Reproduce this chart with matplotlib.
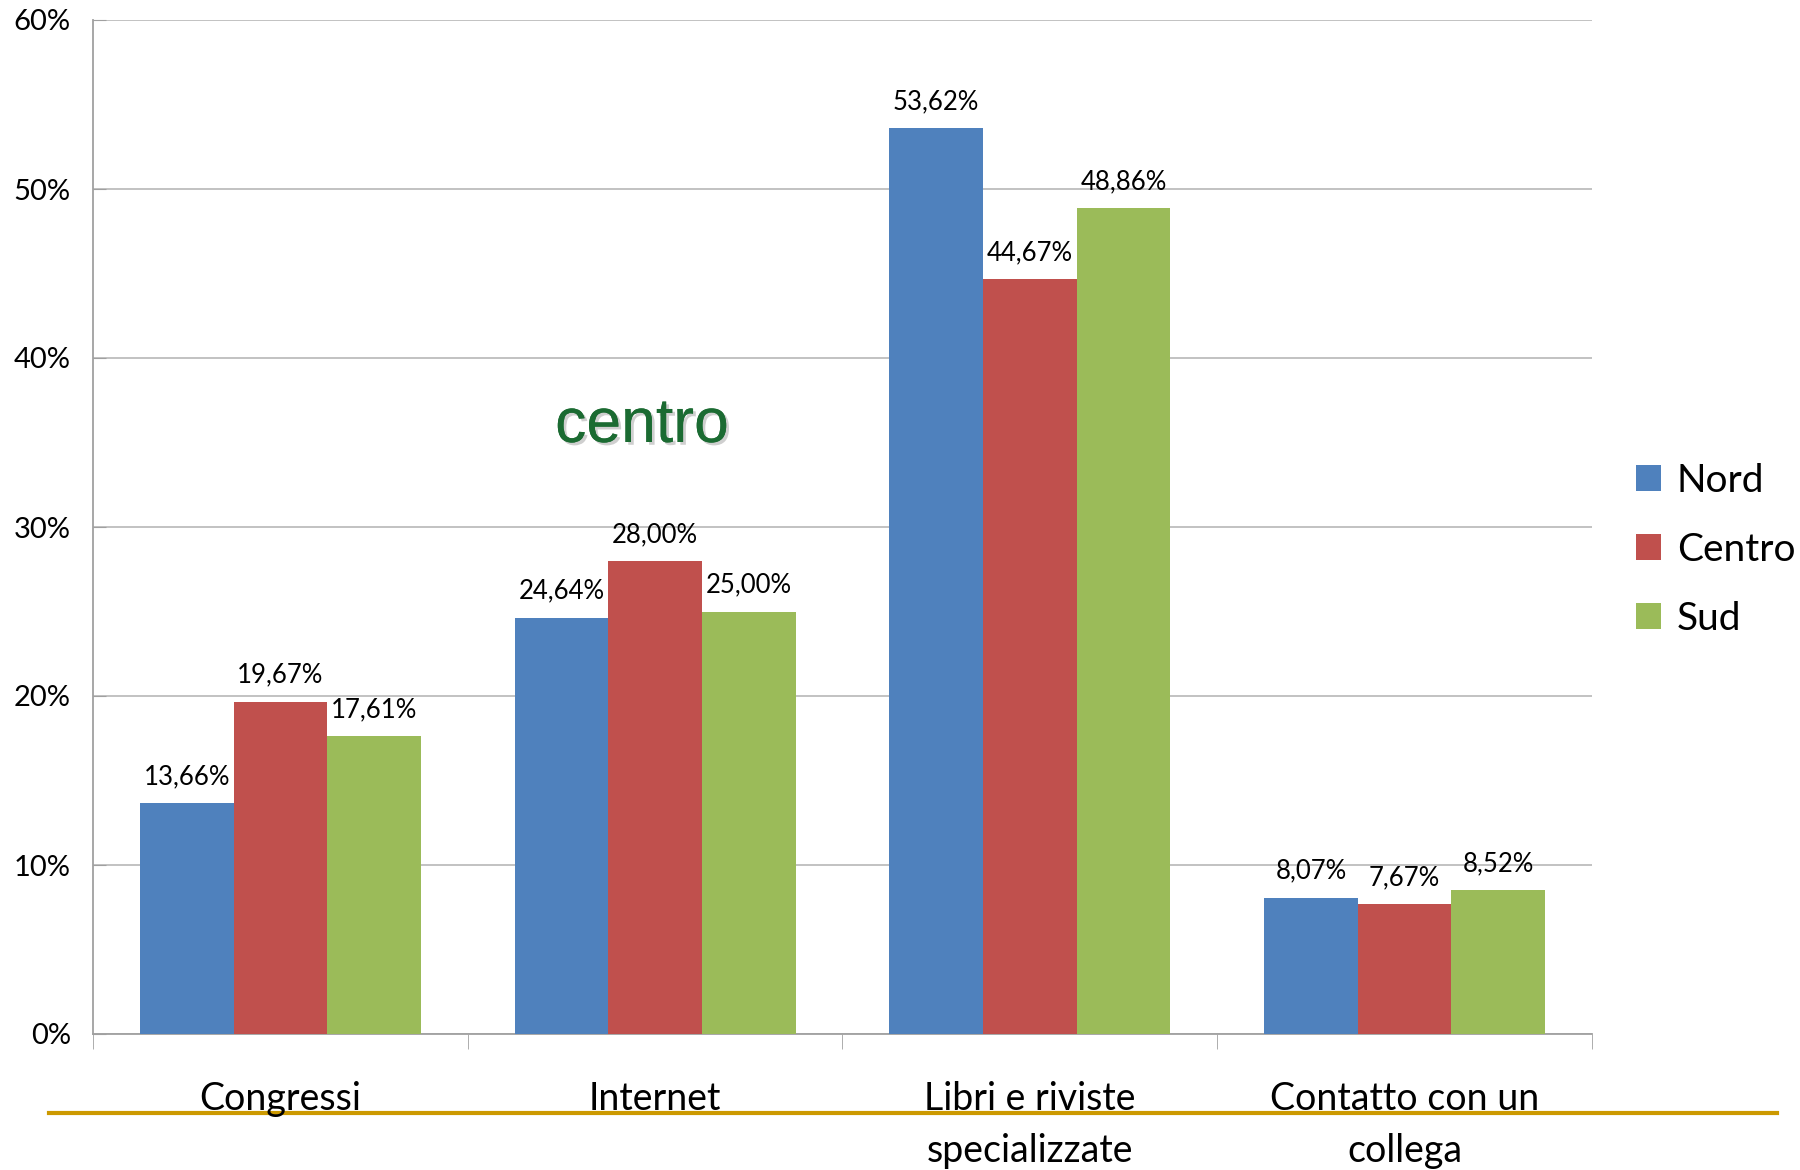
import matplotlib.pyplot as plt
import matplotlib.patheffects as pe
from matplotlib.lines import Line2D
import numpy as np

categories = ['Congressi', 'Internet', 'Libri e riviste\nspecializzate', 'Contatto con un\ncollega']
series = ['Nord', 'Centro', 'Sud']
nord = [13.66, 24.64, 53.62, 8.07]
centro = [19.67, 28.00, 44.67, 7.67]
sud = [17.61, 25.00, 48.86, 8.52]
colors = ['#4F81BD', '#C0504D', '#9BBB59']
y_ticks = [0, 10, 20, 30, 40, 50, 60]

plt.rcParams['font.family'] = ['Lato', 'DejaVu Sans']

fig = plt.figure(figsize=(18, 11.7), dpi=100)
ax = fig.add_axes([93 / 1800, 1 - 1034 / 1170, (1592 - 93) / 1800, (1034 - 20) / 1170])

x = np.arange(len(categories))
w = 0.25
bars = []
for i, (vals, col) in enumerate(zip([nord, centro, sud], colors)):
    b = ax.bar(x + (i - 1) * w, vals, w, color=col, label=series[i], zorder=3)
    bars.append(b)
    # etichette dei valori sopra le barre
    for xi, v in zip(x + (i - 1) * w, vals):
        ax.annotate(f"{v:.2f}%".replace('.', ','), (xi, v), xytext=(0, 10),
                    textcoords='offset points', ha='center', va='bottom',
                    fontsize=18.5, color='black', zorder=4)

ax.set_xlim(-0.5, 3.5)
ax.set_ylim(0, 60)
ax.set_yticks(y_ticks)
ax.set_yticklabels([f"{t}%" for t in y_ticks], fontsize=21)
ax.yaxis.grid(True, color='#BDBDBD', linewidth=1.3, zorder=0)
ax.tick_params(axis='y', direction='in', length=9, color='#A0A0A0', pad=16)

ax.set_xticks(x)
ax.set_xticklabels(categories, fontsize=27, linespacing=1.55, va='top')
ax.set_xticks(np.arange(-0.5, 4.0, 1.0), minor=True)
ax.tick_params(axis='x', which='major', length=0, pad=34)
ax.tick_params(axis='x', which='minor', direction='out', length=11, color='#A0A0A0')

for s in ['top', 'right']:
    ax.spines[s].set_visible(False)
for s in ['left', 'bottom']:
    ax.spines[s].set_color('#A0A0A0')
    ax.spines[s].set_linewidth(1.3)

ax.legend(handles=bars, labels=series, loc='center left', bbox_to_anchor=(1636 / 1800, 1 - 550 / 1170),
          bbox_transform=fig.transFigure, frameon=False, fontsize=28, handlelength=0.65,
          handleheight=0.65, handletextpad=0.4, labelspacing=0.85, borderpad=0, borderaxespad=0)

fig.text(642 / 1800, 1 - 442 / 1170, 'centro', fontsize=45, color='#1B6B32', ha='center',
         va='baseline', family='Liberation Sans',
         path_effects=[pe.withSimplePatchShadow(offset=(2, -2), shadow_rgbFace='#888888', alpha=0.4), pe.Normal()])

fig.add_artist(Line2D([49 / 1800, 1777 / 1800], [1 - 1113 / 1170] * 2, transform=fig.transFigure,
                      color='#CC9900', linewidth=3, zorder=0))

fig.savefig('out.png', dpi=100, facecolor='white')
